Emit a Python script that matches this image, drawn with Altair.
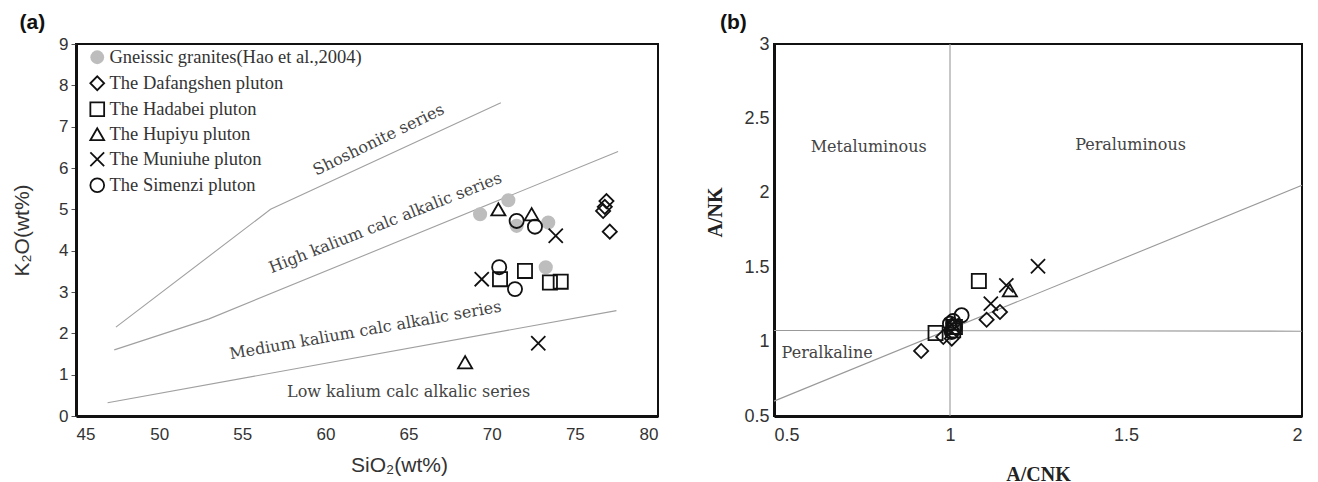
import altair as alt
import pandas as pd

# ---------------- Panel (a) data ----------------
series_order = ["Gneissic  granites(Hao et al.,2004)", "The Dafangshen pluton", "The Hadabei pluton",
                "The Hupiyu pluton", "The Muniuhe pluton", "The Simenzi pluton"]

a_gneiss_x = [69.3, 71.0, 71.5, 73.4, 73.25]
a_gneiss_y = [4.88, 5.22, 4.6, 4.68, 3.6]
a_dafang_x = [76.9, 76.8, 76.7, 77.1]
a_dafang_y = [5.2, 5.06, 4.96, 4.46]
a_hadabei_x = [70.5, 72.0, 73.5, 74.15]
a_hadabei_y = [3.31, 3.51, 3.23, 3.25]
a_hupiyu_x = [70.4, 72.4, 68.4]
a_hupiyu_y = [5.0, 4.88, 1.3]
a_muniuhe_x = [73.85, 69.4, 72.8]
a_muniuhe_y = [4.36, 3.31, 1.76]
a_simenzi_x = [71.5, 72.6, 70.45, 71.4]
a_simenzi_y = [4.72, 4.58, 3.6, 3.07]

# boundary lines (a)
line1_x = [47.4, 56.7, 70.55]
line1_y = [2.15, 5.0, 7.58]
line2_x = [47.3, 53.0, 77.6]
line2_y = [1.6, 2.35, 6.4]
line3_x = [46.9, 77.5]
line3_y = [0.32, 2.55]

a_label_text = ["Shoshonite series", "High kalium calc alkalic series",
                "Medium kalium calc alkalic series", "Low kalium calc alkalic series"]
a_label_x = [63.2, 63.6, 62.4, 65.0]
a_label_y = [6.68, 4.67, 2.07, 0.59]
a_label_angle = [334, 338.5, 350, 0]

# ---------------- Panel (b) data ----------------
b_dafang_x = [0.918, 1.104, 1.142, 0.981, 1.005]
b_dafang_y = [0.937, 1.147, 1.199, 1.031, 1.02]
b_hadabei_x = [1.082, 0.959, 1.009, 1.014]
b_hadabei_y = [1.407, 1.058, 1.076, 1.098]
b_hupiyu_x = [1.17, 1.005]
b_hupiyu_y = [1.345, 1.12]
b_muniuhe_x = [1.25, 1.16, 1.116, 1.005]
b_muniuhe_y = [1.506, 1.378, 1.255, 1.11]
b_simenzi_x = [1.033, 1.009, 1.0, 1.014, 1.005]
b_simenzi_y = [1.177, 1.138, 1.12, 1.098, 1.065]

b_vline_x = [1.0, 1.0]
b_vline_y = [0.5, 3.0]
b_hline_x = [0.5, 2.0]
b_hline_y = [1.075, 1.07]
b_diag_x = [0.5, 2.0]
b_diag_y = [0.60, 2.05]

b_label_text = ["Metaluminous", "Peraluminous", "Peralkaline"]
b_label_x = [0.769, 1.513, 0.651]
b_label_y = [2.31, 2.32, 0.923]

# ---------------- build tables ----------------
def pts(name, xs, ys):
    return [{"series": name, "x": x, "y": y} for x, y in zip(xs, ys)]

a_pts = pd.DataFrame(
    pts(series_order[0], a_gneiss_x, a_gneiss_y)
    + pts(series_order[1], a_dafang_x, a_dafang_y)
    + pts(series_order[2], a_hadabei_x, a_hadabei_y)
    + pts(series_order[3], a_hupiyu_x, a_hupiyu_y)
    + pts(series_order[4], a_muniuhe_x, a_muniuhe_y)
    + pts(series_order[5], a_simenzi_x, a_simenzi_y)
)
b_pts = pd.DataFrame(
    pts(series_order[1], b_dafang_x, b_dafang_y)
    + pts(series_order[2], b_hadabei_x, b_hadabei_y)
    + pts(series_order[3], b_hupiyu_x, b_hupiyu_y)
    + pts(series_order[4], b_muniuhe_x, b_muniuhe_y)
    + pts(series_order[5], b_simenzi_x, b_simenzi_y)
)

def lines(groups):
    rows = []
    for gi, (xs, ys) in enumerate(groups):
        for i, (x, y) in enumerate(zip(xs, ys)):
            rows.append({"g": gi, "i": i, "x": x, "y": y})
    return pd.DataFrame(rows)

a_lines = lines([(line1_x, line1_y), (line2_x, line2_y), (line3_x, line3_y)])
b_lines = lines([(b_vline_x, b_vline_y), (b_hline_x, b_hline_y), (b_diag_x, b_diag_y)])

a_labels = pd.DataFrame({"t": a_label_text, "x": a_label_x, "y": a_label_y, "a": a_label_angle})
b_labels = pd.DataFrame({"t": b_label_text, "x": b_label_x, "y": b_label_y})

XSHAPE = "M-1,-1L1,1M-1,1L1,-1"
shape_range = ["circle", "diamond", "square", "triangle-up", XSHAPE, "circle"]
fill_range = ["#bdbdbd", "transparent", "transparent", "transparent", "transparent", "transparent"]
stroke_range = ["transparent", "#111", "#111", "#111", "#111", "#111"]

SANS = "Liberation Sans"
SERIF = "Liberation Serif"
WSERIF = "DejaVu Serif"

# ---------------- Panel (a) ----------------
ax_x = alt.X("x:Q", scale=alt.Scale(domain=[45, 80], nice=False, zero=False),
             axis=alt.Axis(values=[45, 50, 55, 60, 65, 70, 75, 80], title="SiO₂(wt%)",
                           grid=False, tickSize=0, labelPadding=10, titlePadding=12, titleX=323,
                           domainColor="#111", domainWidth=3,
                           labelFont=SANS, labelFontSize=17, labelColor="#333",
                           titleFont=SANS, titleFontSize=21, titleFontWeight="normal", titleColor="#333"))
ax_y = alt.Y("y:Q", scale=alt.Scale(domain=[0, 9], nice=False, zero=False),
             axis=alt.Axis(values=list(range(10)), title="K₂O(wt%)",
                           grid=False, tickSize=5, tickColor="#555", labelPadding=3, titlePadding=26,
                           domainColor="#111", domainWidth=3,
                           labelFont=SANS, labelFontSize=17, labelColor="#333",
                           titleFont=SANS, titleFontSize=21, titleFontWeight="normal", titleColor="#333"))

a_line_layer = alt.Chart(a_lines).mark_line(color="#a0a0a0", strokeWidth=1.1).encode(
    x=ax_x, y=ax_y, detail="g:N", order="i:O")

a_text_layer = alt.Chart(a_labels).mark_text(font=WSERIF, fontSize=16, color="#444").encode(
    x="x:Q", y="y:Q", text="t:N", angle=alt.Angle("a:Q", scale=None))

legend = alt.Legend(title=None, orient="none", legendX=12, legendY=4,
                    labelFont=SERIF, labelFontSize=18.5, labelColor="#333",
                    symbolSize=190, symbolStrokeWidth=1.8, rowPadding=4, labelOffset=3,
                    labelLimit=400)

a_point_layer = alt.Chart(a_pts).mark_point(size=200, strokeWidth=1.8, opacity=1, filled=False).encode(
    x="x:Q", y="y:Q",
    shape=alt.Shape("series:N", scale=alt.Scale(domain=series_order, range=shape_range), legend=legend),
    fill=alt.Fill("series:N", scale=alt.Scale(domain=series_order, range=fill_range), legend=legend),
    stroke=alt.Stroke("series:N", scale=alt.Scale(domain=series_order, range=stroke_range), legend=legend),
)

panel_a = alt.layer(a_line_layer, a_text_layer, a_point_layer).properties(
    width=582, height=372,
    title=alt.TitleParams("(a)", anchor="start", frame="bounds", font=SANS, fontSize=21,
                          fontWeight="bold", color="#111", offset=2, dx=8)
)

# ---------------- Panel (b) ----------------
bx = alt.X("x:Q", scale=alt.Scale(domain=[0.5, 2], nice=False, zero=False),
           axis=alt.Axis(values=[0.5, 1, 1.5, 2], title="A/CNK", labelExpr="datum.value + ''",
                         grid=False, tickSize=0, labelPadding=10, titlePadding=20,
                         domainColor="#111", domainWidth=3,
                         labelFont=SANS, labelFontSize=18, labelColor="#333",
                         titleFont=SERIF, titleFontSize=20, titleFontWeight="bold", titleColor="#222"))
by = alt.Y("y:Q", scale=alt.Scale(domain=[0.5, 3], nice=False, zero=False),
           axis=alt.Axis(values=[0.5, 1, 1.5, 2, 2.5, 3], title="A/NK", labelExpr="datum.value + ''",
                         grid=False, tickSize=0, labelPadding=5, titlePadding=18, titleY=168,
                         domainColor="#111", domainWidth=3,
                         labelFont=SANS, labelFontSize=18, labelColor="#333",
                         titleFont=SERIF, titleFontSize=20, titleFontWeight="bold", titleColor="#222"))

b_line_layer = alt.Chart(b_lines).mark_line(color="#999999", strokeWidth=1.1).encode(
    x=bx, y=by, detail="g:N", order="i:O")
b_text_layer = alt.Chart(b_labels).mark_text(font=WSERIF, fontSize=16, color="#444").encode(
    x="x:Q", y="y:Q", text="t:N")
b_point_layer = alt.Chart(b_pts).mark_point(size=200, strokeWidth=1.8, opacity=1, filled=False).encode(
    x="x:Q", y="y:Q",
    shape=alt.Shape("series:N", scale=alt.Scale(domain=series_order, range=shape_range), legend=None),
    fill=alt.Fill("series:N", scale=alt.Scale(domain=series_order, range=fill_range), legend=None),
    stroke=alt.Stroke("series:N", scale=alt.Scale(domain=series_order, range=stroke_range), legend=None),
)

panel_b = alt.layer(b_line_layer, b_text_layer, b_point_layer).properties(
    width=528, height=372,
    title=alt.TitleParams("(b)", anchor="start", frame="bounds", font=SANS, fontSize=21,
                          fontWeight="bold", color="#111", offset=2, dx=14)
)

chart = alt.hconcat(panel_a, panel_b, spacing=44).resolve_scale(
    shape="independent", fill="independent", stroke="independent", x="independent", y="independent"
).properties(
    padding={"left": 10, "top": 11, "right": 5, "bottom": 5},
    background="white"
).configure_view(
    stroke="#111", strokeWidth=2
)

chart.save("out.html", embed_options={"renderer": "svg", "actions": False})
